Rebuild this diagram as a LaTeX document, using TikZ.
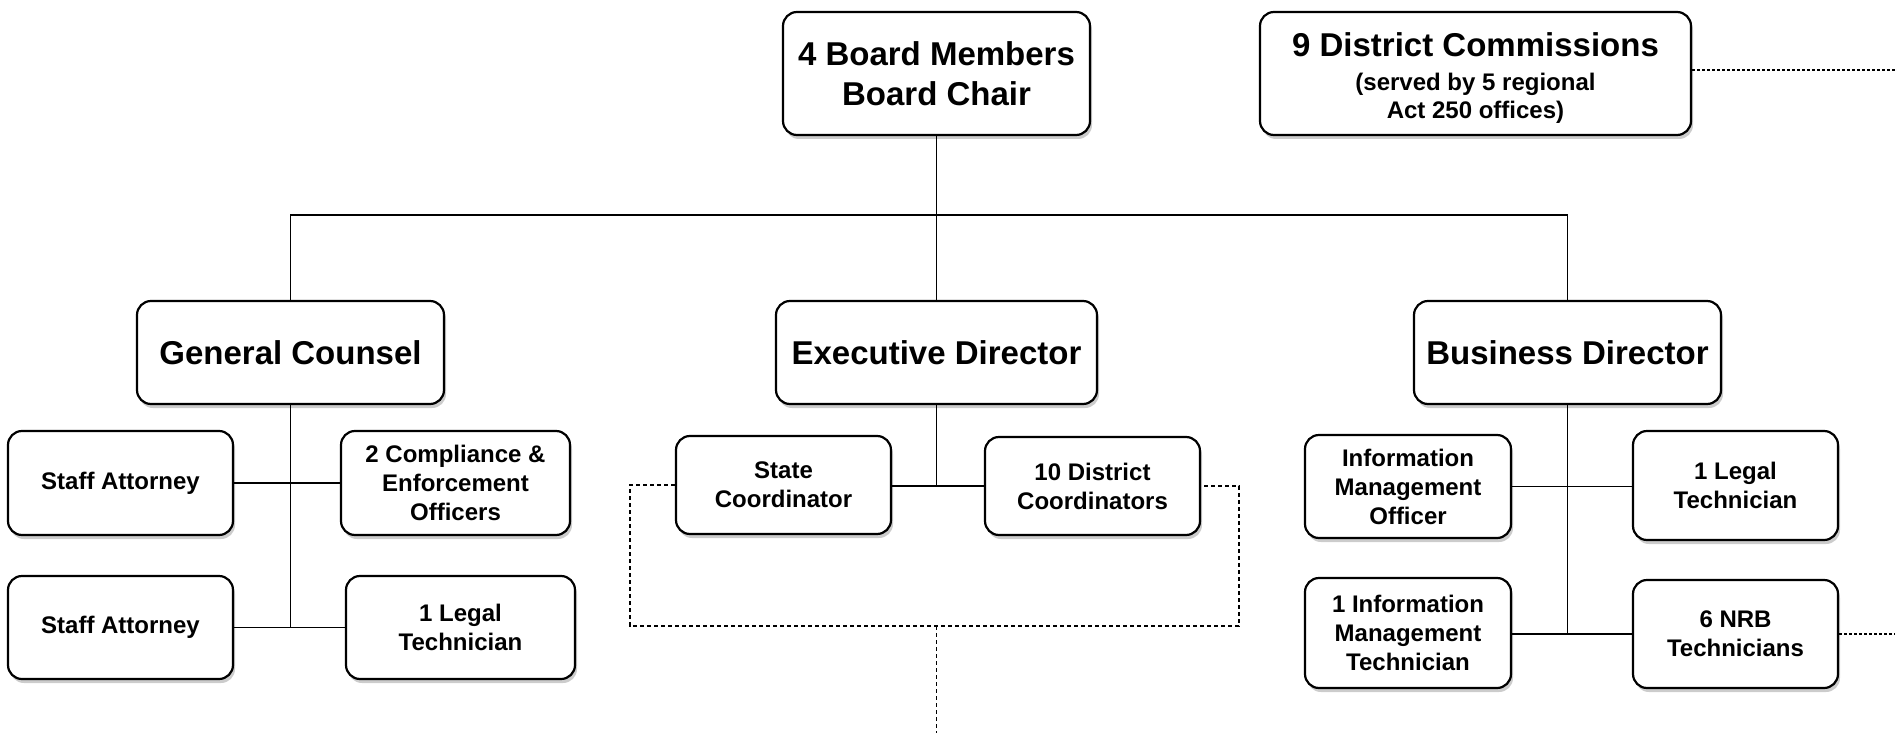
\documentclass[tikz,border=0pt]{standalone}
\usepackage{fontspec}
\setmainfont{Liberation Sans}
\usetikzlibrary{shadows}

\begin{document}
\begin{tikzpicture}[x=1pt,y=-1pt,
    box/.style={draw,rounded corners=14pt,line width=2.2pt,fill=white,align=center,inner sep=0pt,
        font=\bfseries\fontsize{24}{29}\selectfont,
        drop shadow={shadow xshift=2pt,shadow yshift=-4pt,fill=black,opacity=0.2}},
    headbox/.style={box,font=\bfseries\fontsize{33}{40}\selectfont},
    link/.style={line width=1.1pt},
    dashlink/.style={line width=1.1pt,dash pattern=on 4pt off 3pt},
    dotlink/.style={line width=1.1pt,dash pattern=on 3pt off 2pt}]
                \useasboundingbox (0,0) rectangle (1895,733);
                %NODE
                \node[headbox,minimum width=307pt,minimum height=123pt] (board) at (936.5,73.5){4 Board Members\\Board Chair};
                \node[box,minimum width=431pt,minimum height=123pt,font=\bfseries\fontsize{24}{28}\selectfont] (dcom) at (1475.5,73.5){{\fontsize{33}{40}\selectfont\rule{0pt}{33pt}9 District Commissions}\\[6pt](served by 5 regional\\Act 250 offices)};
                \node[headbox,minimum width=307pt,minimum height=103pt] (gc) at (290.5,352.5){General Counsel};
                \node[headbox,minimum width=321pt,minimum height=103pt] (ed) at (936.5,352.5){Executive Director};
                \node[headbox,minimum width=307pt,minimum height=103pt] (bd) at (1567.5,352.5){Business Director};
                
                \node[box,minimum width=225pt,minimum height=104pt] (sa1) at (120.5,483){Staff Attorney};
                \node[box,minimum width=229pt,minimum height=104pt] (ceo) at (455.5,483){2 Compliance \&\\Enforcement\\Officers};
                \node[box,minimum width=225pt,minimum height=103pt] (sa2) at (120.5,627.5){Staff Attorney};
                \node[box,minimum width=229pt,minimum height=103pt] (lt1) at (460.5,627.5){1 Legal\\Technician};
                
                \node[box,minimum width=215pt,minimum height=98pt] (sc) at (783.5,485){State\\Coordinator};
                \node[box,minimum width=215pt,minimum height=98pt] (dcs) at (1092.5,486){10 District\\Coordinators};
                
                \node[box,minimum width=206pt,minimum height=103pt] (imo) at (1408,486.5){Information\\Management\\Officer};
                \node[box,minimum width=205pt,minimum height=109pt] (lt2) at (1735.5,485.5){1 Legal\\Technician};
                \node[box,minimum width=206pt,minimum height=110pt] (imt) at (1408,633){1 Information\\Management\\Technician};
                \node[box,minimum width=205pt,minimum height=108pt] (nrb) at (1735.5,634){6 NRB\\Technicians};
                
                \coordinate (bus) at (936.5,215);
                \coordinate (loopL) at (630,626);
                \coordinate (loopR) at (1239,626);
                \coordinate (edout) at (936.5,733);
                \coordinate (dcomout) at (1895,70);
                \coordinate (nrbout) at (1895,634);
                
                %EDGE
                \draw[link] (board) -- (ed);
                \draw[link] (gc.north) -- (gc.north |- bus) -- (bd.north |- bus) -- (bd.north);
                
                \draw[link] (gc.south) -- (gc.south |- sa2.east);
                \draw[link] (sa1.east) -- (ceo.west);
                \draw[link] (sa2.east) -- (lt1.west);
                
                \draw[link] (ed.south) -- (ed.south |- dcs.west);
                \draw[link] (sc.east |- dcs.west) -- (dcs.west);
                
                \draw[link] (bd.south) -- (bd.south |- nrb.west);
                \draw[link] (imo.east) -- (imo.east -| lt2.west);
                \draw[link] (imt.east |- nrb.west) -- (nrb.west);
                
                \draw[dashlink] (sc.west) -| (loopL) -- (loopR) |- (dcs.east);
                \draw[dashlink] (ed.south |- loopL) -- (edout);
                \draw[dotlink] (dcom.east |- dcomout) -- (dcomout);
                \draw[dotlink] (nrb.east) -- (nrbout);
            \end{tikzpicture}
\end{document}
